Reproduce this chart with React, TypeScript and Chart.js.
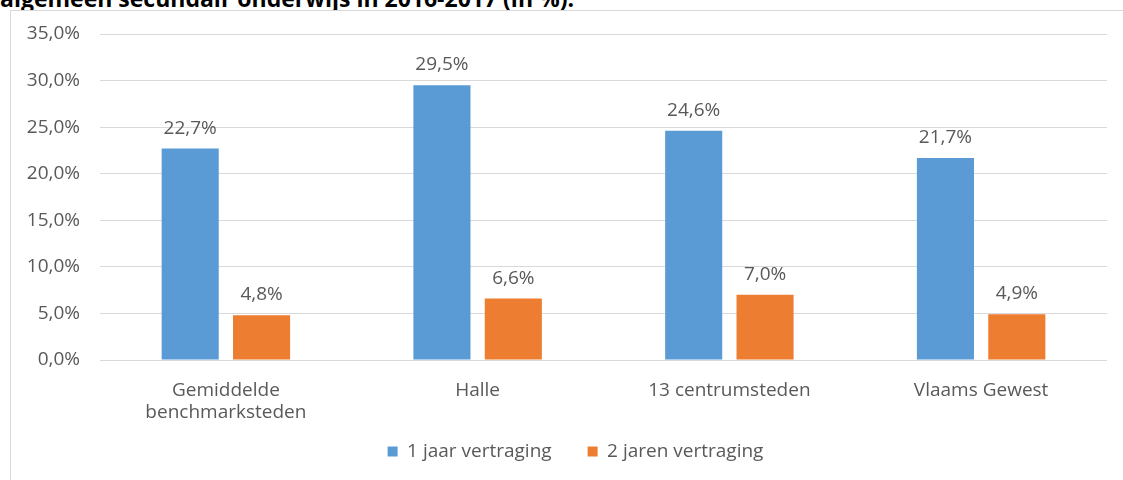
import React, { useEffect, useRef } from 'react';
import { Chart, registerables } from 'chart.js';

Chart.register(...registerables);

const titleText = 'algemeen secundair onderwijs in 2016-2017 (in %).';
const categories: (string | string[])[] = [['Gemiddelde', 'benchmarksteden'], 'Halle', '13 centrumsteden', 'Vlaams Gewest'];
const series1Label = '1 jaar vertraging';
const series1 = [22.7, 29.5, 24.6, 21.7];
const series2Label = '2 jaren vertraging';
const series2 = [4.8, 6.6, 7.0, 4.9];
const yMin = 0;
const yMax = 35;
const yStep = 5;

const FONT = '"Open Sans", sans-serif';
const TEXT = '#595959';
const GRID = '#D9D9D9';
const BLUE = '#5B9BD5';
const ORANGE = '#ED7D31';

const fmt = (v: number) => v.toFixed(1).replace('.', ',') + '%';

const valueLabels = {
  id: 'valueLabels',
  afterLayout(chart: any) {
    // let the two-line category labels extend below the axis box, and centre the legend like the reference
    if (chart.scales.x) chart.scales.x.bottom = chart.height;
    if (chart.legend) chart.legend.left += 44;
  },
  afterDatasetsDraw(chart: any) {
    const ctx = chart.ctx;
    ctx.save();
    ctx.font = `19px ${FONT}`;
    ctx.fillStyle = TEXT;
    ctx.textAlign = 'center';
    ctx.textBaseline = 'alphabetic';
    chart.data.datasets.forEach((ds: any, i: number) => {
      const meta = chart.getDatasetMeta(i);
      meta.data.forEach((el: any, j: number) => {
        ctx.fillText(fmt(ds.data[j]), el.x, el.y - 15);
      });
    });
    ctx.restore();
  },
};

export default function App() {
  const ref = useRef<HTMLCanvasElement | null>(null);

  useEffect(() => {
    if (!ref.current) return;
    const chart = new Chart(ref.current, {
      type: 'bar',
      data: {
        labels: categories,
        datasets: [
          { label: series1Label, data: series1, backgroundColor: BLUE, borderWidth: 0, categoryPercentage: 0.567, barPercentage: 0.8 },
          { label: series2Label, data: series2, backgroundColor: ORANGE, borderWidth: 0, categoryPercentage: 0.567, barPercentage: 0.8 },
        ],
      },
      options: {
        responsive: false,
        animation: false,
        devicePixelRatio: 1,
        layout: { padding: { left: 0, right: 16, top: 34, bottom: 9 } },
        plugins: {
          title: { display: false },
          tooltip: { enabled: false },
          legend: {
            position: 'bottom',
            labels: {
              boxWidth: 10,
              boxHeight: 10,
              padding: 36,
              color: TEXT,
              font: { family: FONT, size: 19 },
            },
          },
        },
        scales: {
          x: {
            grid: { display: false },
            border: { display: false },
            ticks: { color: TEXT, font: { family: FONT, size: 19, lineHeight: 1.17 }, padding: 11, maxRotation: 0, autoSkip: false },
            afterFit: (scale: any) => { scale.height = 46; },
          },
          y: {
            min: yMin,
            max: yMax,
            ticks: { stepSize: yStep, color: TEXT, font: { family: FONT, size: 19 }, padding: 20, callback: (v: any) => fmt(Number(v)) },
            grid: { color: GRID, lineWidth: 1, drawTicks: false },
            border: { display: false },
            afterFit: (scale: any) => { scale.width = 100; },
          },
        },
      },
      plugins: [valueLabels],
    });
    return () => chart.destroy();
  }, []);

  return (
    <div style={{ position: 'fixed', left: 0, top: 0, width: 1123, height: 480, overflow: 'hidden', background: '#fff' }}>
      <div style={{ position: 'absolute', left: 0, top: -14, fontFamily: FONT, fontWeight: 700, fontSize: 23, lineHeight: '24px', color: '#000', whiteSpace: 'nowrap' }}>
        {titleText}
      </div>
      <div style={{ position: 'absolute', left: 10, top: 10, width: 1113, height: 480, borderLeft: `1px solid ${GRID}`, borderTop: `1px solid ${GRID}`, boxSizing: 'border-box', background: '#fff' }} />
      <canvas ref={ref} width={1123} height={480} style={{ position: 'absolute', left: 0, top: 0 }} />
    </div>
  );
}
